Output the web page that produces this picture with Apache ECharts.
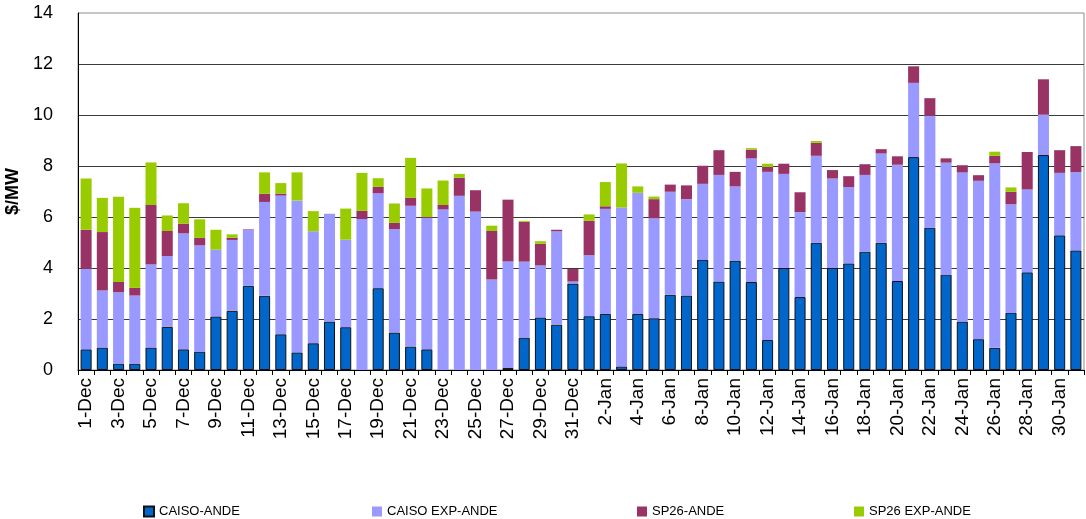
<!DOCTYPE html>
<html>
<head>
<meta charset="utf-8">
<title>ANDE daily values, December–January</title>
<script src="https://cdn.jsdelivr.net/npm/echarts@6/dist/echarts.min.js"></script>
<style>
  html, body { margin: 0; padding: 0; background: #fff; }
  #chart { width: 1086px; height: 519px; }
</style>
</head>
<body>
<div id="chart"></div>
<script>
// Day labels, 1-Dec through 31-Jan
const categories = [
  '1-Dec','2-Dec','3-Dec','4-Dec','5-Dec','6-Dec','7-Dec','8-Dec','9-Dec','10-Dec',
  '11-Dec','12-Dec','13-Dec','14-Dec','15-Dec','16-Dec','17-Dec','18-Dec','19-Dec','20-Dec',
  '21-Dec','22-Dec','23-Dec','24-Dec','25-Dec','26-Dec','27-Dec','28-Dec','29-Dec','30-Dec','31-Dec',
  '1-Jan','2-Jan','3-Jan','4-Jan','5-Jan','6-Jan','7-Jan','8-Jan','9-Jan','10-Jan',
  '11-Jan','12-Jan','13-Jan','14-Jan','15-Jan','16-Jan','17-Jan','18-Jan','19-Jan','20-Jan',
  '21-Jan','22-Jan','23-Jan','24-Jan','25-Jan','26-Jan','27-Jan','28-Jan','29-Jan','30-Jan','31-Jan'
];

// $/MW per component (stacked in this order)
const caisoAnde = [
  0.81, 0.88, 0.25, 0.25, 0.88, 1.69, 0.81, 0.72, 2.10, 2.32,
  3.30, 2.91, 1.40, 0.69, 1.05, 1.90, 1.68, null, 3.21, 1.47,
  0.92, 0.81, null, null, null, null, 0.08, 1.27, 2.06, 1.78, 3.39,
  2.11, 2.20, 0.14, 2.20, 2.03, 2.95, 2.92, 4.33, 3.47, 4.29,
  3.45, 1.18, 4.00, 2.86, 4.99, 4.00, 4.18, 4.64, 4.99, 3.49,
  8.35, 5.58, 3.74, 1.90, 1.21, 0.87, 2.25, 3.83, 8.43, 5.28, 4.69
];
const caisoExpAnde = [
  3.16, 2.24, 2.80, 2.67, 3.26, 2.78, 4.55, 4.17, 2.62, 2.78,
  2.20, 3.68, 5.44, 5.96, 4.39, 4.23, 3.43, 5.92, 3.72, 4.06,
  5.52, 5.15, 6.30, 6.83, 6.21, 3.55, 4.18, 2.98, 2.04, 3.66, 0.08,
  2.39, 4.12, 6.23, 4.75, 3.92, 4.04, 3.78, 2.97, 4.18, 2.91,
  4.85, 6.59, 3.69, 3.33, 3.41, 3.51, 2.99, 3.01, 3.50, 4.56,
  2.91, 4.39, 4.39, 5.85, 6.21, 7.23, 4.25, 3.25, 1.58, 2.45, 3.07
];
const sp26Ande = [
  1.53, 2.29, 0.40, 0.30, 2.33, 0.98, 0.38, 0.29, null, 0.09,
  0.02, 0.32, 0.08, null, null, null, null, 0.32, 0.25, 0.24,
  0.31, 0.04, 0.17, 0.71, 0.84, 1.90, 2.42, 1.56, 0.85, 0.06, 0.49,
  1.35, 0.10, null, null, 0.75, 0.28, 0.54, 0.71, 0.97, 0.57,
  0.34, 0.19, 0.40, 0.78, 0.51, 0.33, 0.43, 0.42, 0.17, 0.33,
  0.65, 0.69, 0.17, 0.28, 0.22, 0.30, 0.49, 1.47, 1.39, 0.89, 1.02
];
const sp26ExpAnde = [
  2.01, 1.34, 3.34, 3.14, 1.67, 0.61, 0.80, 0.73, 0.78, 0.13,
  null, 0.84, 0.41, 1.10, 0.79, null, 1.22, 1.49, 0.34, 0.76,
  1.57, 1.12, 0.96, 0.15, null, 0.21, null, 0.04, 0.10, null, null,
  0.25, 0.95, 1.73, 0.25, 0.10, null, null, null, null, null,
  0.06, 0.13, null, null, 0.07, null, null, null, null, null,
  null, null, null, null, null, 0.16, 0.17, null, null, null, null
];

const seriesNames = ['CAISO-ANDE', 'CAISO EXP-ANDE', 'SP26-ANDE', 'SP26 EXP-ANDE'];
const seriesColors = ['#0066CC', '#9999FF', '#993366', '#99CC00'];
const seriesValues = [caisoAnde, caisoExpAnde, sp26Ande, sp26ExpAnde];

const FONT = "'Liberation Sans', Arial, Helvetica, sans-serif";

const series = seriesNames.map((name, i) => ({
  name: name,
  type: 'bar',
  stack: 'total',
  data: seriesValues[i],
  barCategoryGap: '32%',
  itemStyle: i === 0
    ? { color: seriesColors[i], borderColor: '#111', borderWidth: 1 }
    : { color: seriesColors[i] },
  emphasis: { disabled: true }
}));

// One legend block per series so each entry sits at its own spot along the bottom
const legendLefts = [138, 367, 632, 849];
const legends = seriesNames.map((name, i) => ({
  data: [name],
  left: legendLefts[i],
  top: 500,
  icon: 'rect',
  itemWidth: 10,
  itemHeight: 10,
  selectedMode: false,
  textStyle: { fontFamily: FONT, fontSize: 13, color: '#000' }
}));

const chart = echarts.init(document.getElementById('chart'), null, { renderer: 'canvas' });
chart.setOption({
  animation: false,
  backgroundColor: '#fff',
  legend: legends,
  grid: {
    left: 78, right: 2, top: 13, bottom: 149,
    containLabel: false,
    outerBoundsMode: 'none',
    show: true, borderColor: '#8c8c8c', borderWidth: 1
  },
  xAxis: {
    type: 'category',
    data: categories,
    axisLine: { lineStyle: { color: '#000', width: 1 } },
    axisTick: { show: true, interval: 0, length: 5, lineStyle: { color: '#000' } },
    axisLabel: {
      interval: 1,
      rotate: 90,
      margin: 8,
      fontFamily: FONT,
      fontSize: 19,
      color: '#000'
    }
  },
  yAxis: {
    type: 'value',
    min: 0,
    max: 14,
    interval: 2,
    name: '$/MW',
    nameLocation: 'middle',
    nameGap: 50,
    nameTextStyle: { fontFamily: FONT, fontSize: 18, fontWeight: 'bold', color: '#000' },
    axisLine: { show: true, lineStyle: { color: '#000', width: 1 } },
    axisTick: { show: false },
    axisLabel: { fontFamily: FONT, fontSize: 18, color: '#000', margin: 25 },
    splitLine: { show: true, showMaxLine: false, lineStyle: { color: '#3a3a3a', width: 1 } }
  },
  series: series
});
</script>
</body>
</html>
